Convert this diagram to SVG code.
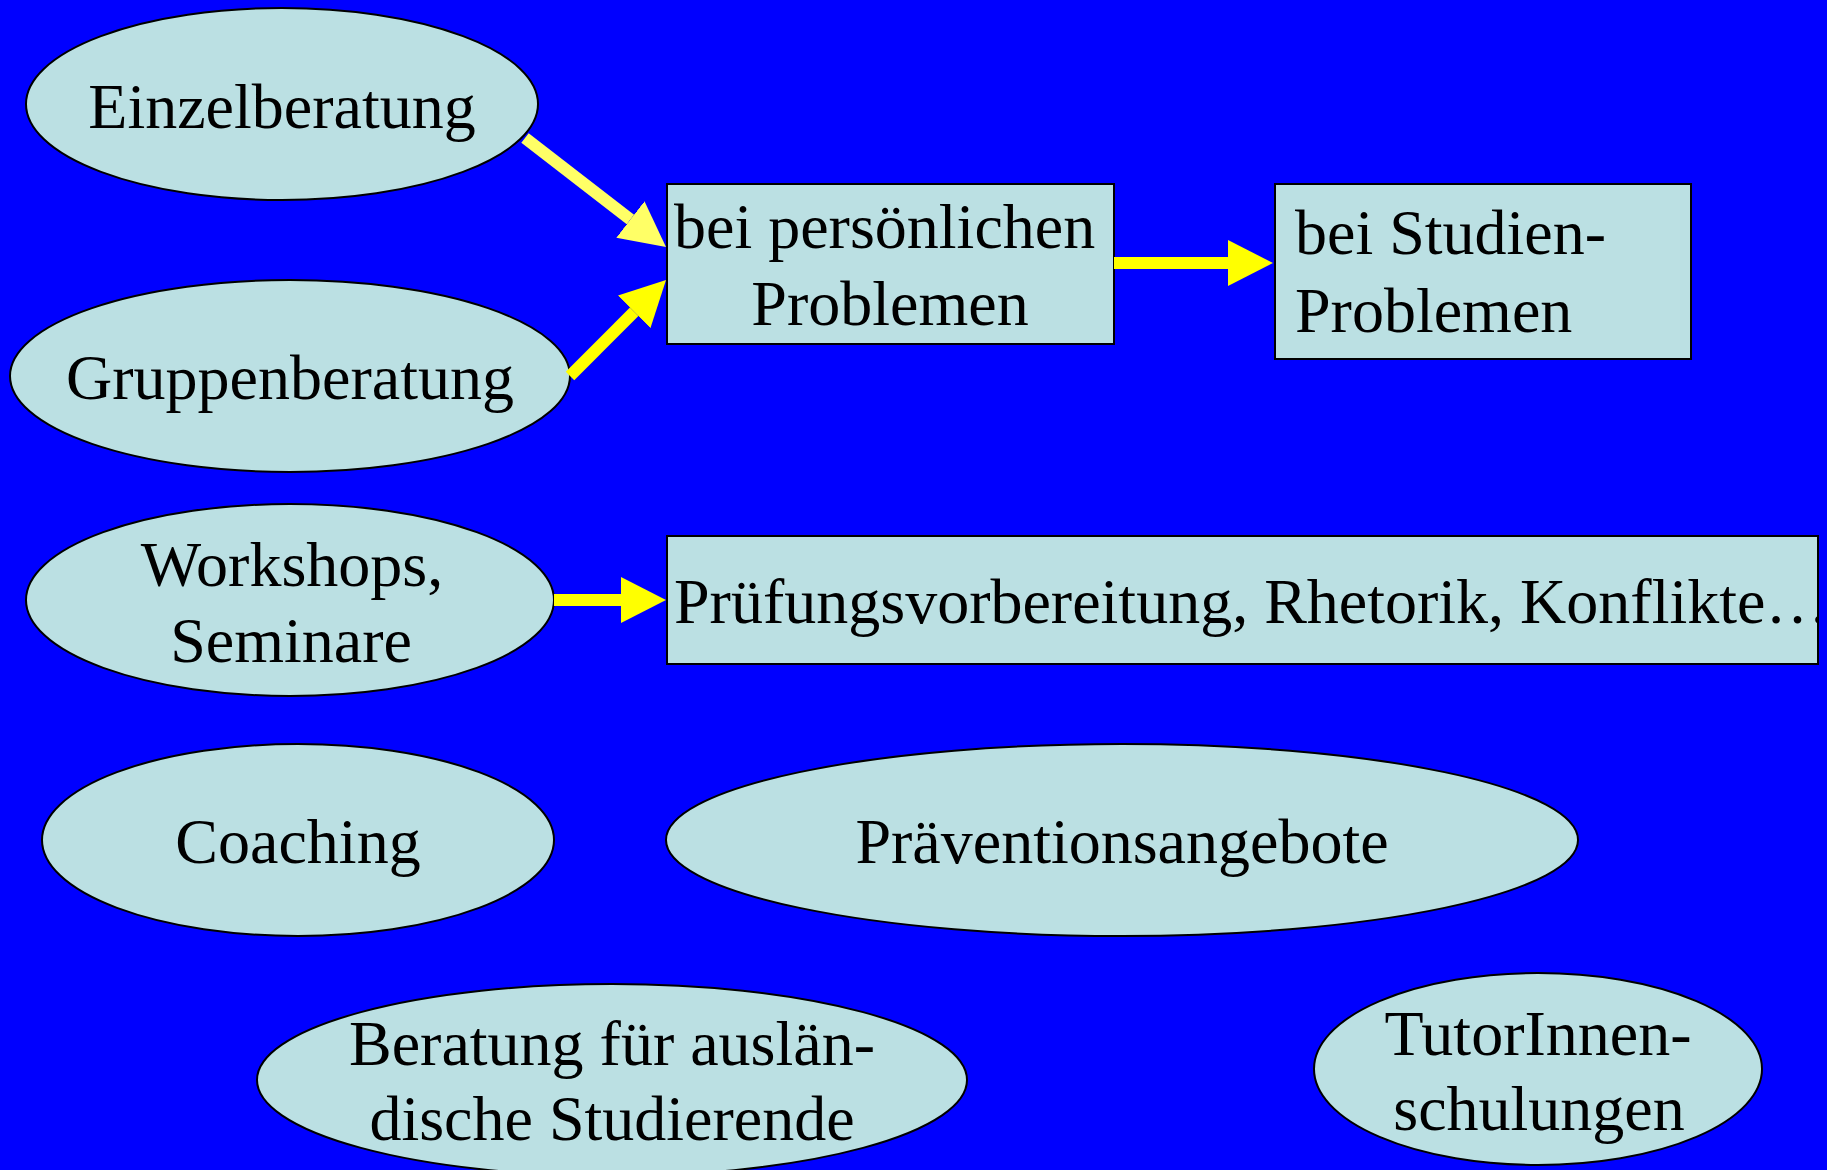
<svg xmlns="http://www.w3.org/2000/svg" width="1827" height="1170" viewBox="0 0 1827 1170">
<style>
.shape{fill:#BBE0E3;stroke:#000;stroke-width:2}
.lbl{font-family:"Liberation Serif","Times New Roman",serif;font-size:64px;fill:#000}
.mid{text-anchor:middle}
.edge{stroke-width:12;fill:none}
.pale{stroke:#FFFF66}
.yel{stroke:#FFFF00}
</style>
<defs>
<marker id="headPale" markerUnits="userSpaceOnUse" viewBox="0 0 45 46" markerWidth="45" markerHeight="46" refX="0" refY="23" orient="auto">
<path d="M0,0 L45,23 L0,46 Z" fill="#FFFF66"/>
</marker>
<marker id="headYel" markerUnits="userSpaceOnUse" viewBox="0 0 45 46" markerWidth="45" markerHeight="46" refX="0" refY="23" orient="auto">
<path d="M0,0 L45,23 L0,46 Z" fill="#FFFF00"/>
</marker>
<clipPath id="clip3"><rect x="667" y="536" width="1151" height="128"/></clipPath>
</defs>
<rect x="0" y="0" width="1827" height="1170" fill="#0000FF"/>

<g id="einzelberatung">
<ellipse class="shape" cx="282" cy="104" rx="256" ry="96"/>
<text class="lbl mid" x="282" y="128">Einzelberatung</text>
</g>
<g id="gruppenberatung">
<ellipse class="shape" cx="290" cy="376" rx="280" ry="96"/>
<text class="lbl mid" x="290" y="399">Gruppenberatung</text>
</g>
<g id="workshops">
<ellipse class="shape" cx="290" cy="600" rx="264" ry="96"/>
<text class="lbl mid" x="292" y="586">Workshops,</text>
<text class="lbl mid" x="291" y="662">Seminare</text>
</g>
<g id="coaching">
<ellipse class="shape" cx="298" cy="840" rx="256" ry="96"/>
<text class="lbl mid" x="298" y="863">Coaching</text>
</g>
<g id="praevention">
<ellipse class="shape" cx="1122" cy="840" rx="456" ry="96"/>
<text class="lbl mid" x="1122" y="863">Präventionsangebote</text>
</g>
<g id="auslaendische">
<ellipse class="shape" cx="612" cy="1080" rx="355" ry="96"/>
<text class="lbl mid" x="612" y="1065">Beratung für auslän-</text>
<text class="lbl mid" x="612" y="1140">dische Studierende</text>
</g>
<g id="tutorinnen">
<ellipse class="shape" cx="1538" cy="1069" rx="224" ry="96"/>
<text class="lbl mid" x="1538" y="1055">TutorInnen-</text>
<text class="lbl mid" x="1539" y="1130">schulungen</text>
</g>
<g id="persoenlich">
<rect class="shape" x="667" y="184" width="447" height="160"/>
<text class="lbl" x="674" y="248">bei persönlichen</text>
<text class="lbl mid" x="890" y="325">Problemen</text>
</g>
<g id="studien">
<rect class="shape" x="1275" y="184" width="416" height="175"/>
<text class="lbl" x="1295" y="254">bei Studien-</text>
<text class="lbl" x="1295" y="332">Problemen</text>
</g>
<g id="themen">
<rect class="shape" x="667" y="536" width="1151" height="128"/>
<text class="lbl" x="674" y="623" clip-path="url(#clip3)">Prüfungsvorbereitung, Rhetorik, Konflikte…</text>
</g>

<g id="connectors">
<line class="edge pale" x1="525" y1="138" x2="630.4" y2="219.5" marker-end="url(#headPale)"/>
<line class="edge yel" x1="570" y1="376" x2="634.2" y2="311.8" marker-end="url(#headYel)"/>
<line class="edge yel" x1="1114" y1="263" x2="1228" y2="263" marker-end="url(#headYel)"/>
<line class="edge yel" x1="554" y1="600" x2="621" y2="600" marker-end="url(#headYel)"/>
</g>
</svg>
